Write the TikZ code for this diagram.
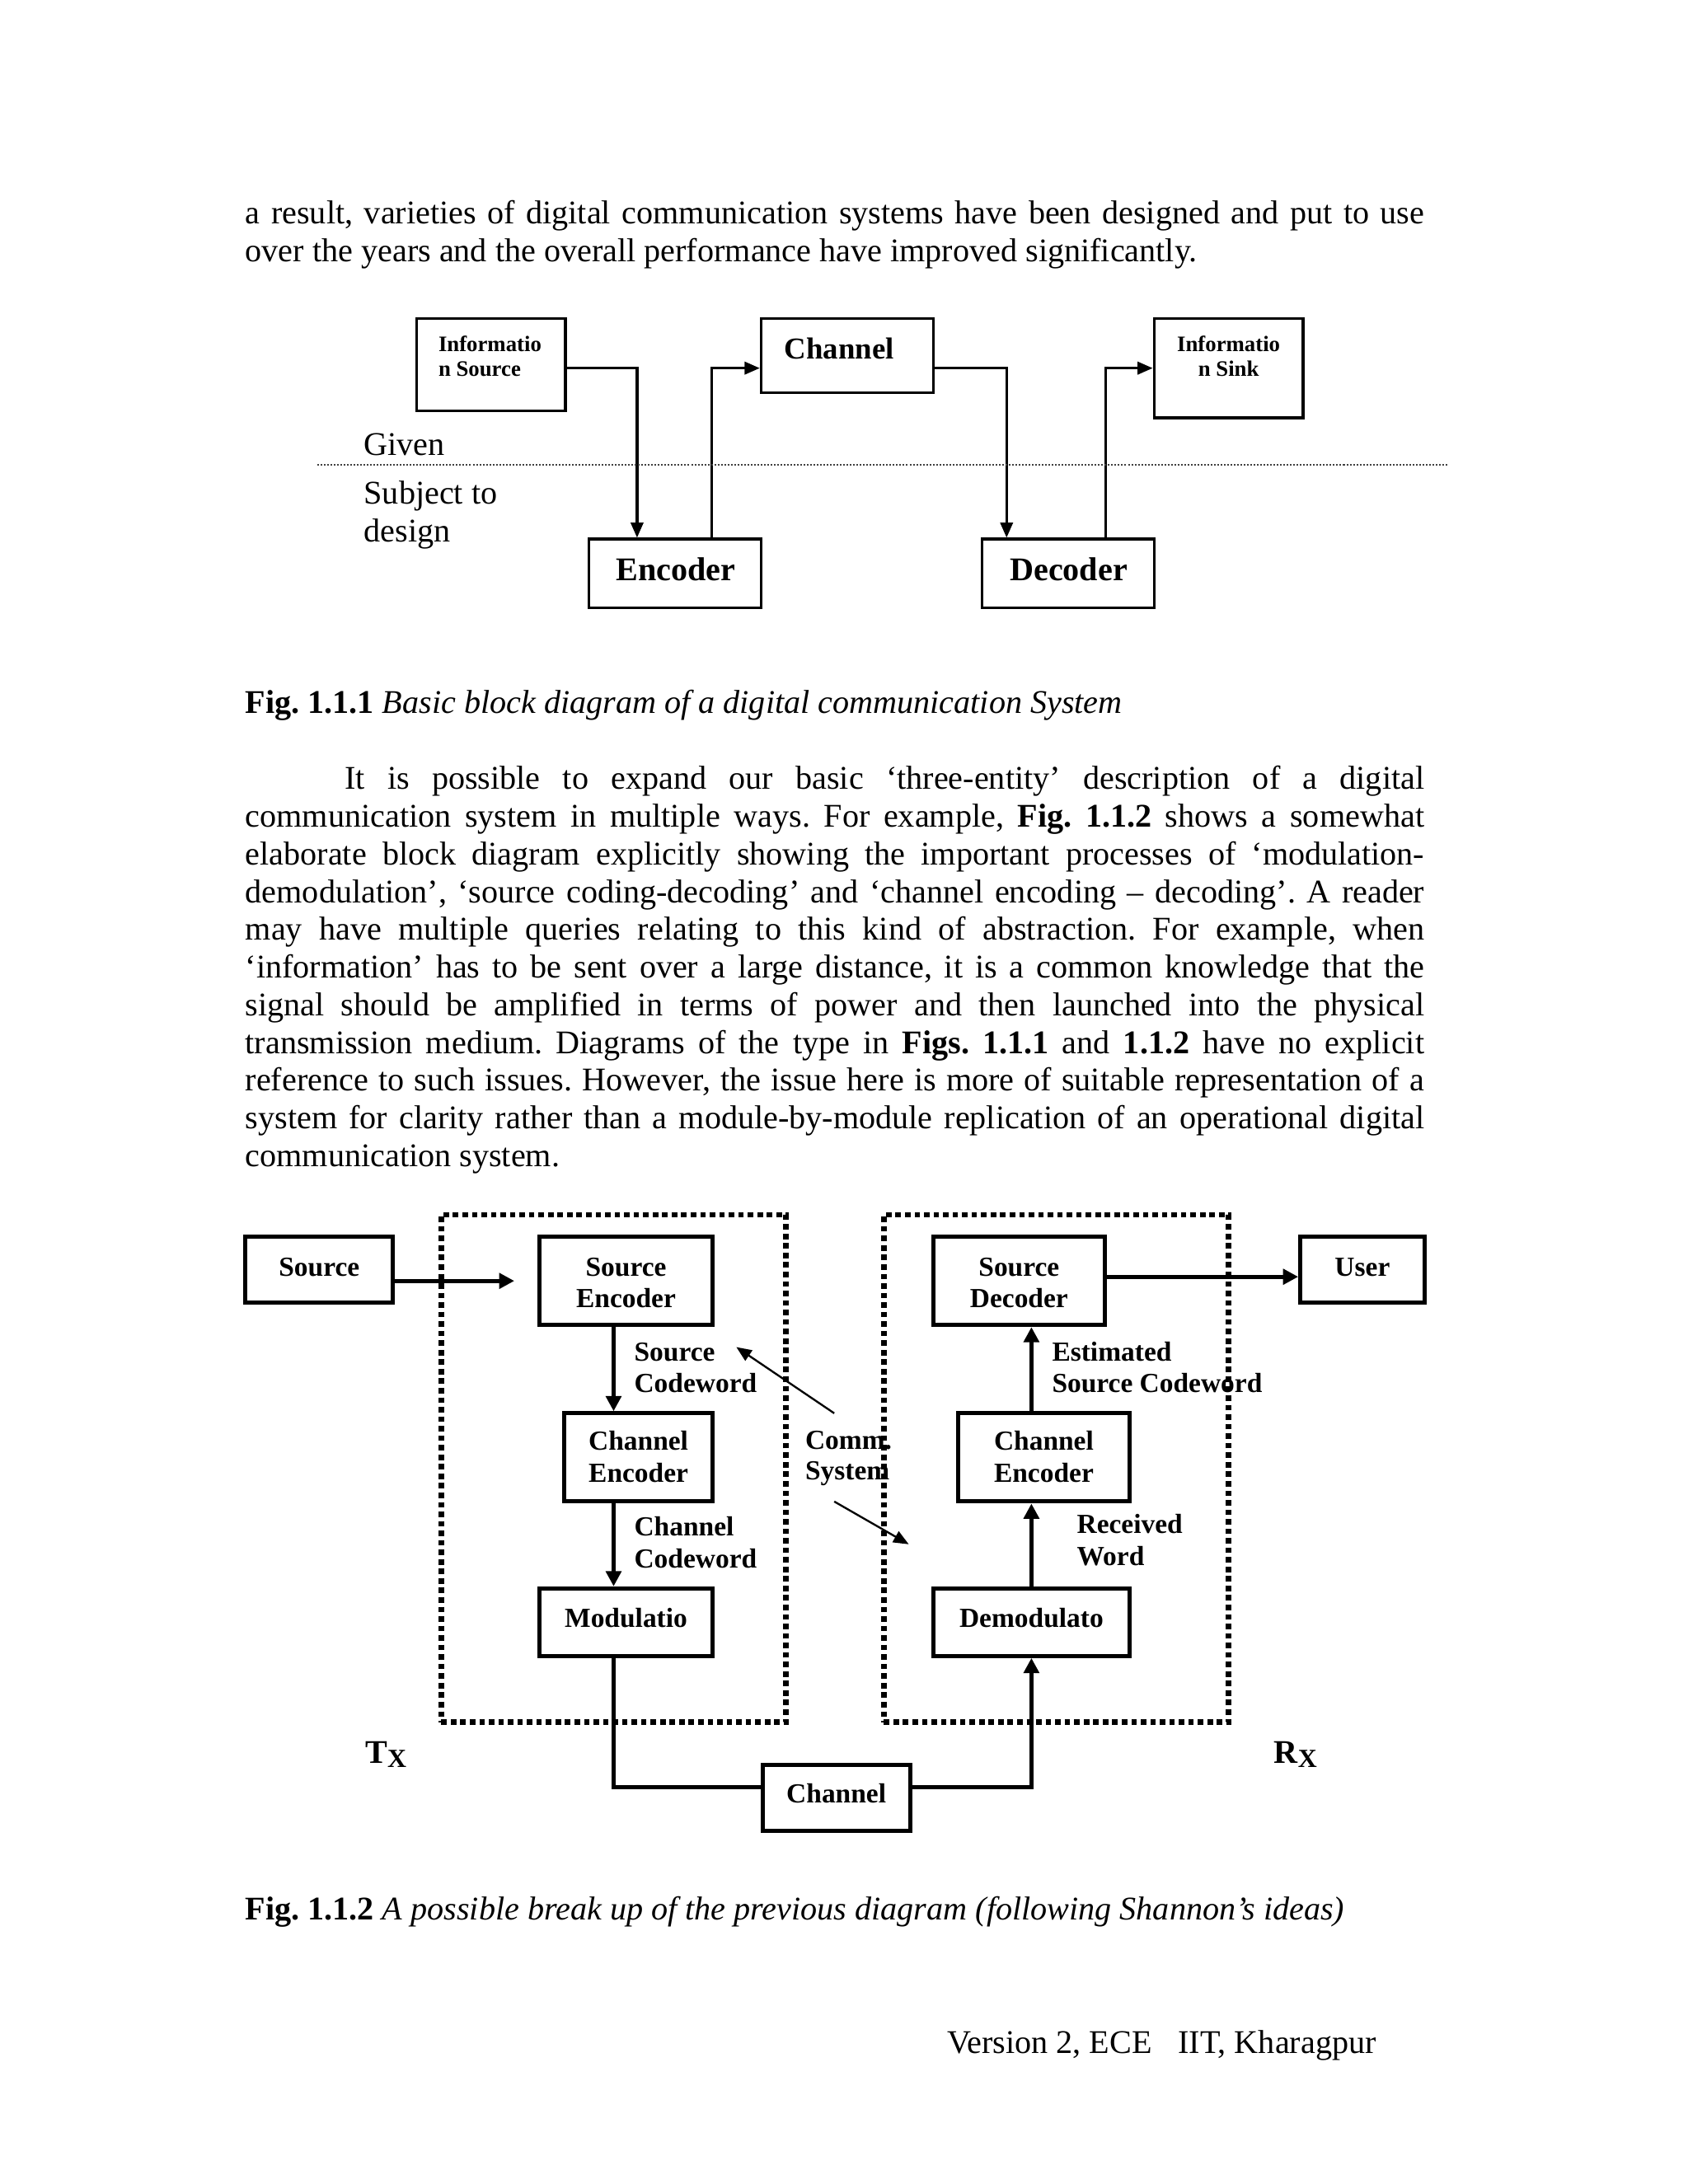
\documentclass[tikz,border=0pt]{standalone}
\usepackage{fontspec}
\setmainfont{Liberation Serif}
\usetikzlibrary{arrows.meta}
\frenchspacing
\tikzset{
  txt/.style={inner sep=0pt, outer sep=0pt, font=\fontsize{12}{13.7}\selectfont},
  fA/.style={inner sep=0pt, outer sep=0pt, font=\fontsize{8}{9}\selectfont\bfseries},
  fB/.style={inner sep=0pt, outer sep=0pt, font=\fontsize{11}{12}\selectfont\bfseries},
  fC/.style={inner sep=0pt, outer sep=0pt, font=\fontsize{12}{13.7}\selectfont\bfseries},
  lbl/.style={inner sep=0pt, outer sep=0pt, font=\fontsize{10}{11.5}\selectfont\bfseries},
  sbox/.style={draw, line width=1pt, inner sep=0pt, outer sep=0.5pt},
  bbox/.style={draw, line width=1.5pt, inner sep=0pt, outer sep=0.75pt},
  dbox/.style={draw, line width=2pt, dash pattern=on 2pt off 1.45pt, inner sep=0pt, outer sep=0pt},
  arrA/.style={line width=1pt, -{Triangle[length=5.5pt,width=4.5pt]}},
  arrB/.style={line width=1.5pt, -{Triangle[length=5.5pt,width=5.5pt]}},
  arrC/.style={line width=0.7pt, -{Triangle[length=5.5pt,width=4.5pt]}},
  wireB/.style={line width=1.5pt},
}
\newcommand{\jline}[1]{\makebox[427.5pt][s]{#1}}
\begin{document}
\begin{tikzpicture}[x=0.5pt,y=-0.5pt]
\fill[white] (0,0) rectangle (1224,1584);
\useasboundingbox (0,0) rectangle (1224,1584);

% ---------- top text ----------
\node[txt, anchor=base west] (t1) at (178,162.5) {\jline{a result, varieties of digital communication systems have been designed and put to use}};
\node[txt, anchor=base west] (t2) at (178,190) {over the years and the overall performance have improved significantly.};

% ---------- Fig 1.1.1 ----------
\node[sbox, minimum width=54pt, minimum height=33.5pt] (isrc) at (356,264.5) {};
\node[sbox, minimum width=62.5pt, minimum height=27pt] (chan1) at (614.5,258) {};
\node[sbox, minimum width=54pt, minimum height=36pt] (isink) at (891,267) {};
\node[sbox, minimum width=62.5pt, minimum height=25pt] (enc) at (489.5,416) {};
\node[sbox, minimum width=62.5pt, minimum height=25pt] (dec) at (774.5,416) {};

\node[fA, anchor=base west] (isrcA) at (318,255) {Informatio};
\node[fA, anchor=base west] (isrcB) at (318,273) {n Source};
\node[fB, anchor=base west] (chanT) at (569,260.5) {Channel};
\node[fA, anchor=base] (isinkA) at (891,255) {Informatio};
\node[fA, anchor=base] (isinkB) at (891,273) {n Sink};
\node[fC, anchor=base] (encT) at (490,421) {Encoder};
\node[fC, anchor=base] (decT) at (775,421) {Decoder};

\coordinate (k1) at (462,267);
\coordinate (k2) at (516,267);
\coordinate (k3) at (730,267);
\coordinate (k4) at (802,267);
\draw[arrA] (isrc.east |- k1) -- (k1) -- (k1 |- enc.north);
\draw[arrA] (k2 |- enc.north) -- (k2) -- (chan1.west |- k2);
\draw[arrA] (chan1.east |- k3) -- (k3) -- (k3 |- dec.north);
\draw[arrA] (k4 |- dec.north) -- (k4) -- (isink.west |- k4);

\coordinate (d1) at (230,337);
\coordinate (d2) at (1050,337);
\draw[line width=0.6pt, dash pattern=on 0.6pt off 0.6pt, black!75] (d1) -- (d2);

\node[txt, anchor=base west] (given) at (264,330) {Given};
\node[txt, anchor=base west] (subj) at (264,365.5) {Subject to};
\node[txt, anchor=base west] (design) at (264,393) {design};

\node[txt, anchor=base west] (cap1) at (178,517.5) {\textbf{Fig. 1.1.1} \textit{Basic block diagram of a digital communication System}};

% ---------- paragraph ----------
\node[txt, anchor=base west] (p1) at (250,572.5) {\makebox[391.5pt][s]{It is possible to expand our basic ‘three-entity’ description of a digital}};
\node[txt, anchor=base west] (p2) at (178,599.85) {\jline{communication system in multiple ways. For example, \textbf{Fig. 1.1.2} shows a somewhat}};
\node[txt, anchor=base west] (p3) at (178,627.2) {\jline{elaborate block diagram explicitly showing the important processes of ‘modulation-}};
\node[txt, anchor=base west] (p4) at (178,654.55) {\jline{demodulation’, ‘source coding-decoding’ and ‘channel encoding – decoding’. A reader}};
\node[txt, anchor=base west] (p5) at (178,681.9) {\jline{may have multiple queries relating to this kind of abstraction. For example, when}};
\node[txt, anchor=base west] (p6) at (178,709.25) {\jline{‘information’ has to be sent over a large distance, it is a common knowledge that the}};
\node[txt, anchor=base west] (p7) at (178,736.6) {\jline{signal should be amplified in terms of power and then launched into the physical}};
\node[txt, anchor=base west] (p8) at (178,763.95) {\jline{transmission medium. Diagrams of the type in \textbf{Figs. 1.1.1} and \textbf{1.1.2} have no explicit}};
\node[txt, anchor=base west] (p9) at (178,791.3) {\jline{reference to such issues. However, the issue here is more of suitable representation of a}};
\node[txt, anchor=base west] (p10) at (178,818.65) {\jline{system for clarity rather than a module-by-module replication of an operational digital}};
\node[txt, anchor=base west] (p11) at (178,846) {communication system.};

% ---------- Fig 1.1.2 ----------
\node[dbox, minimum width=125pt, minimum height=184pt] (txb) at (445,1065) {};
\node[dbox, minimum width=125pt, minimum height=184pt] (rxb) at (766,1065) {};

\node[bbox, minimum width=53.5pt, minimum height=24pt] (src) at (231.5,921) {};
\node[bbox, minimum width=63pt, minimum height=32pt] (senc) at (454,929) {};
\node[bbox, minimum width=54pt, minimum height=32pt] (cenc) at (463,1057) {};
\node[bbox, minimum width=63pt, minimum height=24.5pt] (mod) at (454,1176.5) {};
\node[bbox, minimum width=62pt, minimum height=32pt] (sdec) at (739,929) {};
\node[bbox, minimum width=45pt, minimum height=24pt] (user) at (988,921) {};
\node[bbox, minimum width=62pt, minimum height=32pt] (cdec) at (757,1057) {};
\node[bbox, minimum width=71pt, minimum height=24.5pt] (demod) at (748,1176.5) {};
\node[bbox, minimum width=53.5pt, minimum height=24pt] (chan2) at (606.5,1304) {};

\node[lbl, anchor=base] (srcT) at (231.5,925.5) {Source};
\node[lbl, anchor=base] (sencA) at (454,925.5) {Source};
\node[lbl, anchor=base] (sencB) at (454,948.5) {Encoder};
\node[lbl, anchor=base] (cencA) at (463,1052) {Channel};
\node[lbl, anchor=base] (cencB) at (463,1075) {Encoder};
\node[lbl, anchor=base] (modT) at (454,1180) {Modulatio};
\node[lbl, anchor=base] (sdecA) at (739,925.5) {Source};
\node[lbl, anchor=base] (sdecB) at (739,948.5) {Decoder};
\node[lbl, anchor=base] (userT) at (988,925.5) {User};
\node[lbl, anchor=base] (cdecA) at (757,1052) {Channel};
\node[lbl, anchor=base] (cdecB) at (757,1075) {Encoder};
\node[lbl, anchor=base] (demodT) at (748,1180) {Demodulato};
\node[lbl, anchor=base] (chan2T) at (606.5,1307.5) {Channel};

\node[lbl, anchor=base west] (scwA) at (460,987) {Source};
\node[lbl, anchor=base west] (scwB) at (460,1010) {Codeword};
\node[lbl, anchor=base west] (ccwA) at (460,1114) {Channel};
\node[lbl, anchor=base west] (ccwB) at (460,1137) {Codeword};
\node[lbl, anchor=base west] (escA) at (763,987) {Estimated};
\node[lbl, anchor=base west] (escB) at (763,1010) {Source Codeword};
\node[lbl, anchor=base west] (rwA) at (781,1112) {Received};
\node[lbl, anchor=base west] (rwB) at (781,1135.5) {Word};
\node[lbl, anchor=base west] (commA) at (584,1051) {Comm.};
\node[lbl, anchor=base west] (commB) at (584,1073) {System};

\node[fC, anchor=base west] (txl) at (265,1279) {T\raisebox{-1.5pt}{\fontsize{9.5}{10}\selectfont X}};
\node[fC, anchor=base west] (rxl) at (924,1279) {R\raisebox{-1.5pt}{\fontsize{9.5}{10}\selectfont X}};

\coordinate (srcend) at (373,929);
\coordinate (tx) at (445,0);
\coordinate (rx) at (748,0);
\coordinate (bot) at (0,1296);
\coordinate (uy) at (0,926);
\draw[arrB] (src.east |- srcend) -- (srcend);
\draw[arrB] (senc.south -| tx) -- (cenc.north -| tx);
\draw[arrB] (cenc.south -| tx) -- (mod.north -| tx);
\draw[wireB] (mod.south -| tx) -- (tx |- bot) -- (chan2.west |- bot);
\draw[arrB] (chan2.east |- bot) -- (rx |- bot) -- (demod.south -| rx);
\draw[arrB] (demod.north -| rx) -- (cdec.south -| rx);
\draw[arrB] (cdec.north -| rx) -- (sdec.south -| rx);
\draw[arrB] (sdec.east |- uy) -- (user.west |- uy);

\coordinate (a1s) at (605,1025);
\coordinate (a1e) at (534,977);
\coordinate (a2s) at (605,1089);
\coordinate (a2e) at (659,1120);
\draw[arrC] (a1s) -- (a1e);
\draw[arrC] (a2s) -- (a2e);

\node[txt, anchor=base west] (cap2) at (178,1392.5) {\textbf{Fig. 1.1.2} \textit{A possible break up of the previous diagram (following Shannon’s ideas)}};

\node[txt, anchor=base east] (foot) at (998,1489.5) {Version 2, ECE\hspace{9.5pt}IIT, Kharagpur};
\end{tikzpicture}
\end{document}
